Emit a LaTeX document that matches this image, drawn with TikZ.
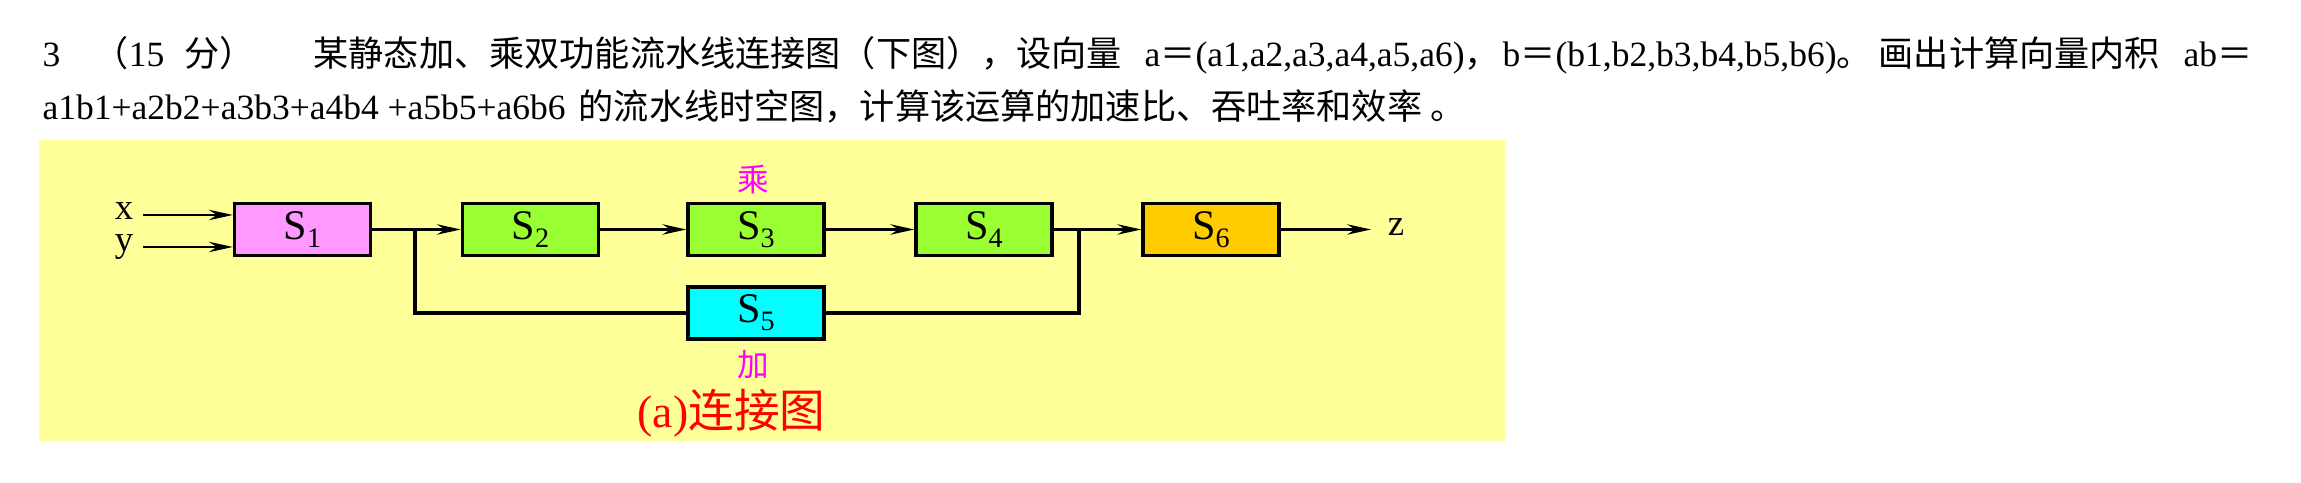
\documentclass[tikz,border=0pt]{standalone}
\usepackage{fontspec}
\setmainfont{Liberation Serif}
\newfontfamily\cjk{Noto Sans CJK SC}
\usetikzlibrary{arrows.meta}
\definecolor{bgyellow}{HTML}{FFFF99}
\definecolor{inpink}{HTML}{FF99FF}
\definecolor{midgreen}{HTML}{99FF33}
\definecolor{addcyan}{HTML}{00FFFF}
\definecolor{outorange}{HTML}{FFCC00}
\definecolor{tagmagenta}{HTML}{FF00FF}
\tikzset{ %inner sep = 0mm,
  >={Stealth[length=2.4mm,width=1.05mm,inset=0.8mm]},
  {stage/.style} ={draw, line width=0.95pt, fill=#1, minimum width=13.6mm,
                   minimum height=5.2mm, inner sep=0,
                   font=\fontsize{12}{14}\selectfont},
  {flow/.style} ={draw, ->, line width=0.6pt},
  {bus/.style} ={draw, line width=0.95pt},
  {head/.style} ={anchor=base west, inner sep=0,
                  font=\fontsize{10.1}{12}\selectfont},
  {tag/.style} ={inner sep=0, text=tagmagenta,
                 font=\cjk\fontsize{9}{11}\selectfont},
  {port/.style} ={inner sep=0, anchor=base, font=\fontsize{10.5}{12}\selectfont},
}
\newcommand{\stg}[1]{S\raisebox{-0.8mm}{\fontsize{8}{9}\selectfont #1}}
\newcommand{\zh}{\cjk\fontsize{10}{12}\selectfont}

\begin{document}
\begin{tikzpicture}[x=0.1mm, y=-0.1mm]
\useasboundingbox (0,0) rectangle (2301,483);

% question text
\node[head] (qno) at (42,67) {3};
\node[head] (score) at (93,67) {{\zh （}15\hspace{2mm}{\zh 分）}};
\node[head] (stem) at (313,67) {\zh 某静态加、乘双功能流水线连接图（下图），设向量};
\node[head] (veca) at (1144,67) {a{\zh ＝}(a1,a2,a3,a4,a5,a6){\zh ，}};
\node[head] (vecb) at (1502,67) {b{\zh ＝}(b1,b2,b3,b4,b5,b6){\zh 。}};
\node[head] (draw) at (1878,67) {\zh 画出计算向量内积};
\node[head] (prod) at (2183,67) {ab{\zh ＝}};
\node[head] (sum) at (42,120) {a1b1+a2b2+a3b3+a4b4 +a5b5+a6b6};
\node[head] (ask) at (578,120) {\zh 的流水线时空图，计算该运算的加速比、吞吐率和效率 。};

% connection diagram
\fill[bgyellow] (39,140) rectangle (1505,441);

\node[stage=inpink] (s1) at (302.5,229.5) {\stg{1}};
\node[stage=midgreen] (s2) at (530.5,229.5) {\stg{2}};
\node[stage=midgreen] (s3) at (756,229.5) {\stg{3}};
\node[stage=midgreen] (s4) at (984,229.5) {\stg{4}};
\node[stage=addcyan] (s5) at (756,313) {\stg{5}};
\node[stage=outorange] (s6) at (1211,229.5) {\stg{6}};

\node[tag] (mul) at (753,180) {乘};
\node[tag] (add) at (753,365) {加};
\node[inner sep=0, anchor=west, text=red, font=\fontsize{13}{15}\selectfont]
  (cap) at (637,413) {(a){\cjk 连接图}};

\node[port] (lx) at (124,220) {x};
\node[port] (ly) at (124,252) {y};
\node[port] (lz) at (1396,236) {z};

\coordinate (xin) at (143,215);
\coordinate (yin) at (143,247);
\coordinate (zout) at (1371,229.5);
\coordinate (fork) at (415,229.5);
\coordinate (join) at (1079,229.5);

\draw[flow] (xin) -- (xin -| s1.west);
\draw[flow] (yin) -- (yin -| s1.west);
\draw[flow] (s1) -- (s2);
\draw[flow] (s2) -- (s3);
\draw[flow] (s3) -- (s4);
\draw[flow] (s4) -- (s6);
\draw[flow] (s6) -- (zout);
\draw[bus] (fork) |- (s5.west);
\draw[bus] (s5.east) -| (join);
\end{tikzpicture}
\end{document}
